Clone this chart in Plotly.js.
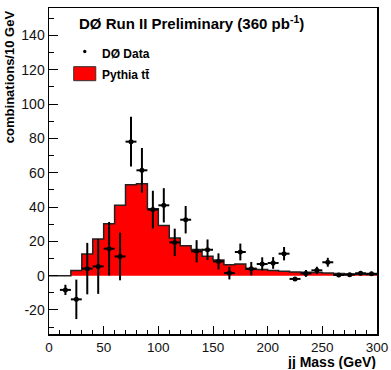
<!DOCTYPE html>
<html>
<head>
<meta charset="utf-8">
<script src="https://cdn.plot.ly/plotly-3.0.1.min.js"></script>
<style>html,body{margin:0;padding:0;background:#fff;}</style>
</head>
<body>
<div id="chart" style="width:391px;height:370px;"></div>
<script>
// Pythia ttbar histogram: bin low edges (GeV) and contents
const binEdges = [0,10,20,30,40,50,60,70,80,90,100,110,120,130,140,150,160,170,180,190,200,210,220,230,240,250,260,270,280,290,300];
const pythiaValues = [0,0,3,12.6,21.4,30.3,41,53,53.6,39,29.2,22,17.5,15.2,11.3,9.1,6.4,6.8,3.8,3.6,3,2.6,2.2,2,1.8,1.5,1.2,1.0,0.8,0.7];

// DØ data points: bin centres, values, errors
const dataMass = [15,25,35,45,55,65,75,85,95,105,115,125,135,145,155,165,175,185,195,205,215,225,235,245,255,265,275,285,295];
const dataValues = [-8.3,-13.8,4.1,5.4,15.7,11.2,78.1,61.4,38.5,41,19.4,32.6,14.2,15.1,8.3,1.5,13.8,4.1,6.8,7.4,12.8,-1.9,1.3,3.1,7.8,0.4,0.6,1.4,1.1];
const dataErrors = [3,11.5,15,16,15.6,13.9,14.5,13,11,10,8,8,6.5,6,4.7,3.7,4.9,3.9,3.9,3.4,3.9,1,2,2.1,2.6,1,1,1.2,1];
const binHalfWidth = 5;

const xTickVals = [0,50,100,150,200,250,300];
const yTickVals = [-20,0,20,40,60,80,100,120,140];

const histY = pythiaValues.concat([pythiaValues[pythiaValues.length-1]]);

const FONT = 'Liberation Sans, Arial, Helvetica, sans-serif';

const traces = [
  {
    type: 'scatter', mode: 'lines',
    x: binEdges, y: histY,
    line: {shape: 'hv', color: '#222', width: 1.5},
    fill: 'tozeroy', fillcolor: '#ff0000',
    hoverinfo: 'skip', showlegend: false
  },
  {
    type: 'scatter', mode: 'markers',
    x: dataMass, y: dataValues,
    marker: {color: '#000', size: 5},
    error_y: {type: 'data', array: dataErrors, visible: true, color: '#000', thickness: 2, width: 0},
    error_x: {type: 'constant', value: binHalfWidth, visible: true, color: '#000', thickness: 2, width: 0},
    showlegend: false
  }
];

const layout = {
  width: 391, height: 370,
  margin: {l: 49, r: 14, t: 8, b: 36},
  paper_bgcolor: '#fff', plot_bgcolor: '#fff',
  showlegend: false,
  font: {family: FONT, color: '#111'},
  xaxis: {
    range: [0, 300], tickvals: xTickVals, ticktext: xTickVals.map(String),
    ticks: 'inside', ticklen: 8, tickwidth: 1, tickcolor: '#000',
    minor: {dtick: 10, ticks: 'inside', ticklen: 4, tickcolor: '#000', showgrid: false},
    showline: true, linecolor: '#000', linewidth: 1.5, mirror: true,
    showgrid: false, zeroline: false,
    tickfont: {family: FONT, size: 13.5, color: '#111'}
  },
  yaxis: {
    range: [-34, 156], tickvals: yTickVals, ticktext: yTickVals.map(String),
    ticks: 'inside', ticklen: 9, tickwidth: 1, tickcolor: '#000',
    minor: {dtick: 10, ticks: 'inside', ticklen: 5, tickcolor: '#000', showgrid: false},
    showline: true, linecolor: '#000', linewidth: 1.5, mirror: true,
    showgrid: false, zeroline: false,
    tickfont: {family: FONT, size: 14, color: '#111'}
  },
  annotations: [
    {text: '<b>DØ Run II Preliminary (360 pb<sup>-1</sup>)</b>', xref: 'paper', yref: 'paper',
     x: 0.085, y: 0.955, xanchor: 'left', yanchor: 'middle', showarrow: false,
     font: {family: FONT, size: 15, color: '#000'}},
    {text: '<b>DØ Data</b>', xref: 'paper', yref: 'paper', x: 0.154, y: 0.86,
     xanchor: 'left', yanchor: 'middle', showarrow: false, font: {family: FONT, size: 12, color: '#000'}},
    {text: '<b>Pythia tt\u0304</b>', xref: 'paper', yref: 'paper', x: 0.154, y: 0.795,
     xanchor: 'left', yanchor: 'middle', showarrow: false, font: {family: FONT, size: 12, color: '#000'}},
    {text: '<b>jj Mass (GeV)</b>', xref: 'paper', yref: 'paper', x: 1.0, y: -0.06,
     xanchor: 'right', yanchor: 'top', height: 14, borderpad: 0, valign: 'middle',
     showarrow: false, font: {family: FONT, size: 14, color: '#000'}},
    {text: '<b>combinations/10 GeV</b>', xref: 'paper', yref: 'paper', x: -0.12, y: 1.0,
     xanchor: 'center', yanchor: 'top', textangle: -90, showarrow: false, font: {family: FONT, size: 13, color: '#000'}}
  ],
  shapes: [
    {type: 'rect', xref: 'paper', yref: 'paper', x0: 0.0754, x1: 0.1426, y0: 0.777, y1: 0.82,
     fillcolor: '#ff0000', line: {color: '#333', width: 1}},
    {type: 'circle', xref: 'paper', yref: 'paper', x0: 0.104, x1: 0.114, y0: 0.861, y1: 0.872,
     fillcolor: '#000', line: {color: '#000', width: 0}}
  ]
};

Plotly.newPlot('chart', traces, layout, {displayModeBar: false, staticPlot: true});
</script>
</body>
</html>
